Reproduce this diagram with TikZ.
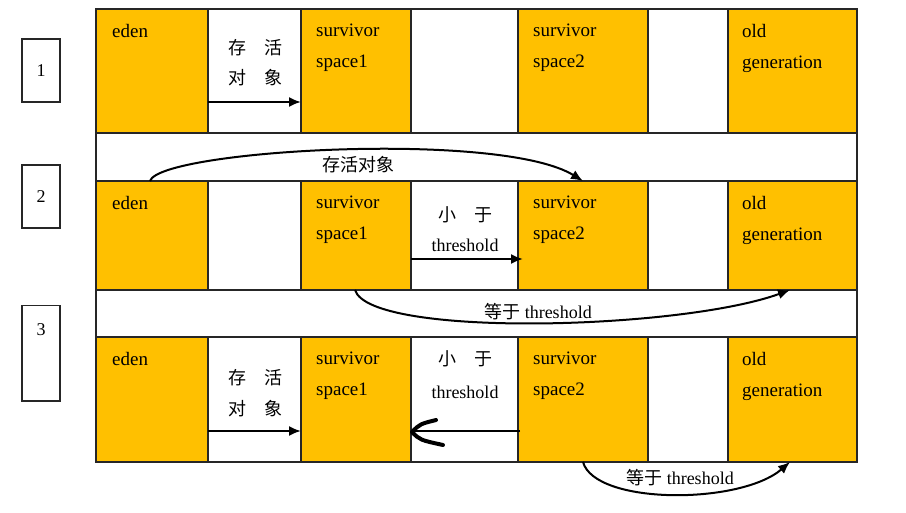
\documentclass[tikz,border=0pt]{standalone}
\usepackage{fontspec}
\setmainfont{Liberation Serif}
\newfontfamily\cjk{Noto Sans CJK SC}
\usetikzlibrary{arrows.meta}
\definecolor{gold}{RGB}{255,192,0}
\begin{document}
\begin{tikzpicture}[x=1pt,y=-1pt,
  zone/.style={draw=black!85,line width=1.8pt,fill=gold},
  gap/.style={draw=black!85,line width=1.8pt,fill=white},
  numbox/.style={draw=black!85,line width=1.5pt},
  lbl/.style={anchor=north west,font=\fontsize{19}{23}\selectfont,align=left,inner sep=0pt},
  clbl/.style={font=\fontsize{18}{22}\selectfont,inner sep=0pt},
  arr/.style={-{Latex[length=12pt,width=10pt]},line width=2pt}]
\useasboundingbox (0,0) rectangle (906,513);
\fill[white] (0,0) rectangle (906,513);
\draw[gap] (96,9) rectangle (857,462);
% rows
\foreach \r/\ya/\yb in {1/9/133,2/181/290,3/337/462}{
  \draw[zone] (96,\ya) rectangle (208,\yb);
  \draw[gap]  (208,\ya) rectangle (301,\yb);
  \draw[zone] (301,\ya) rectangle (411,\yb);
  \draw[gap]  (411,\ya) rectangle (518,\yb);
  \draw[zone] (518,\ya) rectangle (648,\yb);
  \draw[gap]  (648,\ya) rectangle (728,\yb);
  \draw[zone] (728,\ya) rectangle (857,\yb);
  \node[lbl] (e\r) at (112,\ya+15) {eden};
  \node[lbl] (sa\r) at (316,\ya+15) {survivor\\[8pt]space1};
  \node[lbl] (sb\r) at (533,\ya+15) {survivor\\[8pt]space2};
  \node[lbl] (o\r) at (742,\ya+15) {old\\[8pt]generation};
}
% number boxes
\node[numbox,minimum width=38pt,minimum height=63pt,font=\fontsize{18}{22}\selectfont] (n1) at (41,70.5) {1};
\node[numbox,minimum width=38pt,minimum height=63pt,font=\fontsize{18}{22}\selectfont] (n2) at (41,196.5) {2};
\node[numbox,minimum width=38pt,minimum height=95pt,anchor=north] (n3) at (41,305) {};
\node[font=\fontsize{18}{22}\selectfont] (n3t) at (41,330) {3};
% row 1
\node[clbl] (t1) at (255,48) {\cjk 存\quad 活};
\node[clbl] (t2) at (255,78) {\cjk 对\quad 象};
\coordinate (a1) at (208,102); \coordinate (b1) at (301,102);
\draw[arr] (a1) -- (b1);
% row 2
\coordinate (c1) at (150,181); \coordinate (c2) at (583,181);
\draw[arr] (c1) .. controls (160,150) and (500,130) .. (c2);
\node[clbl] (t3) at (358,165) {\cjk 存活对象};
\node[clbl] (t4) at (465,215) {\cjk 小\quad 于};
\node[lbl,anchor=center,font=\fontsize{18}{22}\selectfont] (t5) at (465,245) {threshold};
\coordinate (a2) at (411,259); \coordinate (b2) at (523,259);
\draw[arr] (a2) -- (b2);
\coordinate (d1) at (355,290); \coordinate (d2) at (790,290);
\draw[arr] (d1) .. controls (370,338) and (680,330) .. (d2);
\node[clbl] (t6) at (538,312) {{\cjk 等于} threshold};
% row 3
\node[clbl] (t7) at (255,378) {\cjk 存\quad 活};
\node[clbl] (t8) at (255,409) {\cjk 对\quad 象};
\coordinate (a3) at (208,431); \coordinate (b3) at (301,431);
\draw[arr] (a3) -- (b3);
\node[clbl] (t9) at (465,359) {\cjk 小\quad 于};
\node[lbl,anchor=center,font=\fontsize{18}{22}\selectfont] (t10) at (465,392) {threshold};
\coordinate (a4) at (520,431); \coordinate (b4) at (411,431);
\draw[line width=2pt] (a4) -- (b4);
\draw[line width=4pt,line cap=round,line join=round] (436,420) .. controls (420,424) .. (412,432) .. controls (420,440) .. (443,445);
\coordinate (f1) at (583,462); \coordinate (f2) at (790,462);
\draw[arr] (f1) .. controls (595,505) and (740,505) .. (f2);
\node[clbl] (t11) at (680,478) {{\cjk 等于} threshold};
\end{tikzpicture}
\end{document}
